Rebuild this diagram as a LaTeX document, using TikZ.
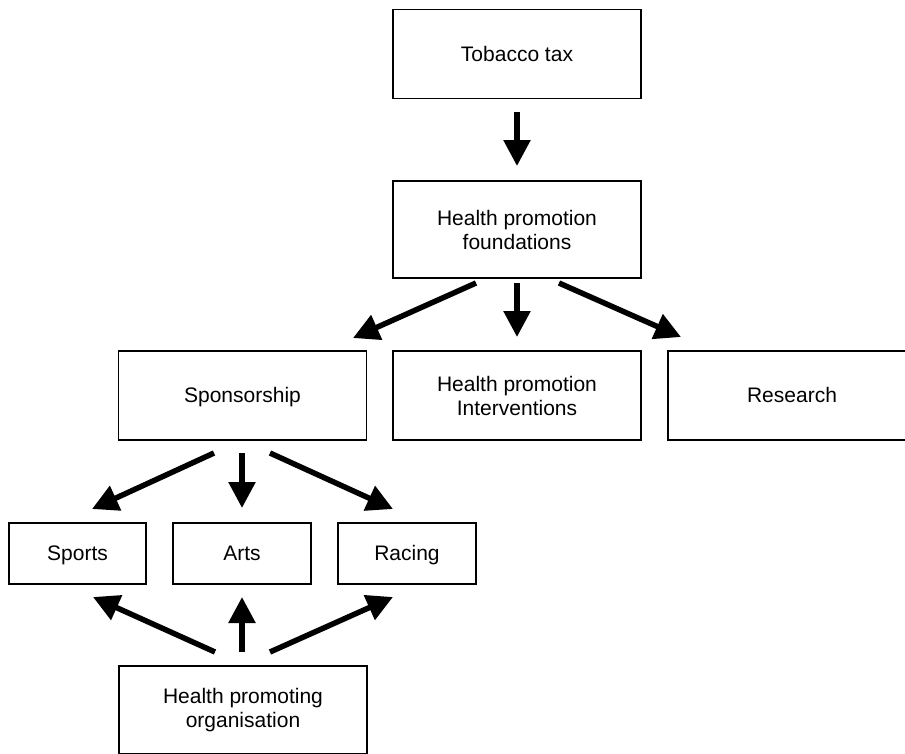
\documentclass[tikz,border=0pt]{standalone}
\usepackage{fontspec}
\setmainfont{Liberation Sans}
\usetikzlibrary{arrows.meta}
\begin{document}
\begin{tikzpicture}[x=1pt,y=-1pt,
  box/.style={draw=black,line width=1.3pt,minimum width=248pt,minimum height=89pt,
    align=center,inner sep=0pt,font=\fontsize{21}{24}\selectfont},
  oneline/.style={text height=18pt,text depth=4pt},
  smallbox/.style={box,oneline,minimum width=137pt,minimum height=61pt},
  bigarrow/.style={line width=5.5pt,-{Triangle[length=26pt,width=26pt]}}]
\useasboundingbox (0,0) rectangle (905,753);
\clip (0,0) rectangle (905,753);
\node[box,oneline] (tt) at (517,54) {Tobacco tax};
\node[box,minimum height=97pt] (hpf) at (517,229.5) {Health promotion\\foundations};
\node[box,oneline] (sp) at (242.5,395.5) {Sponsorship};
\node[box] (hpi) at (517,395.5) {Health promotion\\Interventions};
\node[box,oneline] (res) at (792,395.5) {Research};
\node[smallbox] (sports) at (77.5,553.5) {Sports};
\node[smallbox,minimum width=138pt] (arts) at (242,553.5) {Arts};
\node[smallbox,minimum width=138pt] (racing) at (407,553.5) {Racing};
\node[box,minimum height=88pt] (hpo) at (243,710) {Health promoting\\organisation};
% connector end points
\coordinate (a1s) at (517,112); \coordinate (a1e) at (517,166);
\coordinate (a2s) at (476,283); \coordinate (a2e) at (353,338);
\coordinate (a3s) at (517,283); \coordinate (a3e) at (517,337);
\coordinate (a4s) at (559,283); \coordinate (a4e) at (681,337);
\coordinate (b1s) at (214,453); \coordinate (b1e) at (92,509);
\coordinate (b2s) at (242,453); \coordinate (b2e) at (242,508);
\coordinate (b3s) at (270,453); \coordinate (b3e) at (393,509);
\coordinate (c1s) at (215,652); \coordinate (c1e) at (93,597);
\coordinate (c2s) at (242,652); \coordinate (c2e) at (242,597);
\coordinate (c3s) at (270,652); \coordinate (c3e) at (393,597);
\draw[bigarrow] (a1s) -- (a1e);
\draw[bigarrow] (a2s) -- (a2e);
\draw[bigarrow] (a3s) -- (a3e);
\draw[bigarrow] (a4s) -- (a4e);
\draw[bigarrow] (b1s) -- (b1e);
\draw[bigarrow] (b2s) -- (b2e);
\draw[bigarrow] (b3s) -- (b3e);
\draw[bigarrow] (c1s) -- (c1e);
\draw[bigarrow] (c2s) -- (c2e);
\draw[bigarrow] (c3s) -- (c3e);
\end{tikzpicture}
\end{document}
